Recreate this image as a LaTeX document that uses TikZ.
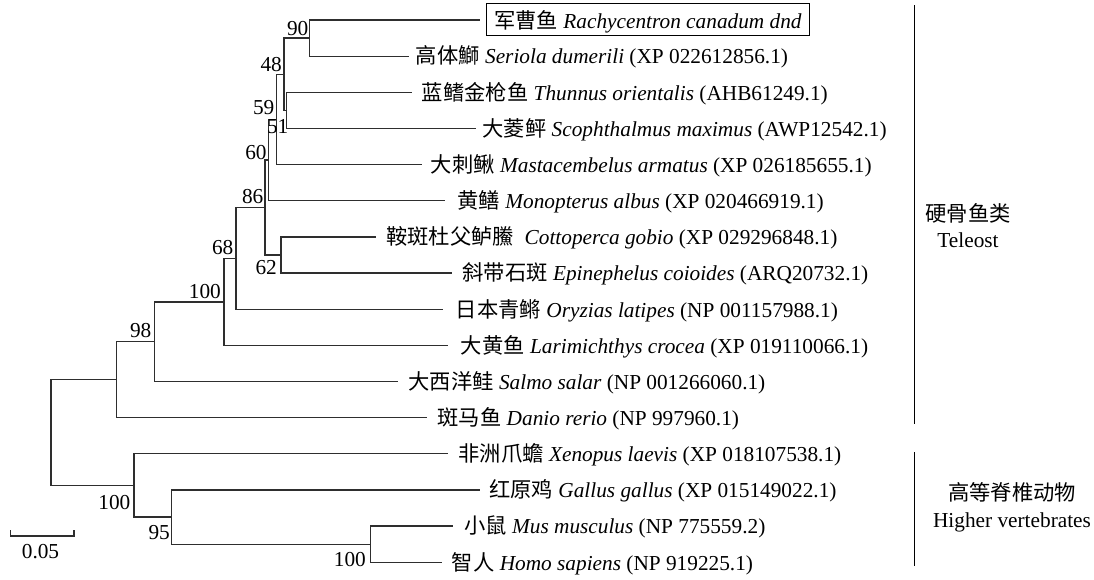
\documentclass[tikz,border=0pt]{standalone}
\usepackage{fontspec}
\setmainfont{Liberation Serif}
\newfontfamily\cjk{Noto Sans CJK SC}
\newcommand{\treefont}{\fontsize{21.3}{25}\selectfont}
\begin{document}
\begin{tikzpicture}[x=1pt,y=-1pt,
  br/.style={line width=1.3pt, draw=black!82},
  leaf/.style={anchor=base west, inner sep=0pt, font=\treefont},
  boot/.style={anchor=base east, inner sep=0pt, font=\treefont},
  clade/.style={anchor=base, inner sep=0pt, font=\treefont},
  bar/.style={line width=1.2pt, draw=black}]
\useasboundingbox (0,0) rectangle (1094,579);

% internal nodes
\coordinate (n90)   at (309.3, 38.075);
\coordinate (n51)   at (286.7, 110.375);
\coordinate (n48)   at (284.0, 74.225);
\coordinate (n59)   at (276.7, 119.41);
\coordinate (n60)   at (268.3, 160.08);
\coordinate (n62)   at (281.0, 254.975);
\coordinate (n86)   at (265.0, 207.53);
\coordinate (n68)   at (236.0, 258.365);
\coordinate (n100a) at (224.0, 301.86);
\coordinate (n98)   at (154.3, 341.68);
\coordinate (ntel)  at (116.7, 379.665);
\coordinate (nmh)   at (370.7, 544.175);
\coordinate (n95)   at (171.3, 517.06);
\coordinate (nhigh) at (134.0, 485.43);
\coordinate (root)  at (51.0, 432.55);

% leaf tips
\coordinate (t0)  at (480.0, 20);
\coordinate (t1)  at (409.0, 56.15);
\coordinate (t2)  at (411.7, 92.3);
\coordinate (t3)  at (476.0, 128.45);
\coordinate (t4)  at (421.7, 164.6);
\coordinate (t5)  at (445.0, 200.75);
\coordinate (t6)  at (376.0, 236.9);
\coordinate (t7)  at (451.7, 273.05);
\coordinate (t8)  at (443.3, 309.2);
\coordinate (t9)  at (448.3, 345.35);
\coordinate (t10) at (398.0, 381.5);
\coordinate (t11) at (426.7, 417.65);
\coordinate (t12) at (448.3, 453.8);
\coordinate (t13) at (480.0, 489.95);
\coordinate (t14) at (453.3, 526.1);
\coordinate (t15) at (441.7, 562.25);

% leaf labels
\node[font=\treefont, draw=black, line width=1pt, inner xsep=8pt, inner ysep=4pt,
      text height=20.5pt, text depth=3.2pt, anchor=north west] (l0) at (485.7, 3.3)
  {{\cjk 军曹鱼} \textit{Rachycentron canadum dnd}};
\node[leaf] (l1)  at (415.7, 63.95)  {{\cjk 高体鰤} \textit{Seriola dumerili} (XP 022612856.1)};
\node[leaf] (l2)  at (421.7, 100.1)  {{\cjk 蓝鳍金枪鱼} \textit{Thunnus orientalis} (AHB61249.1)};
\node[leaf] (l3)  at (482.3, 136.25) {{\cjk 大菱鲆} \textit{Scophthalmus maximus} (AWP12542.1)};
\node[leaf] (l4)  at (430.7, 172.4)  {{\cjk 大刺鳅} \textit{Mastacembelus armatus} (XP 026185655.1)};
\node[leaf] (l5)  at (457.3, 208.55) {{\cjk 黄鳝} \textit{Monopterus albus} (XP 020466919.1)};
\node[leaf] (l6)  at (386.0, 244.7)  {{\cjk 鞍斑杜父鲈鰧}\ \ \textit{Cottoperca gobio} (XP 029296848.1)};
\node[leaf] (l7)  at (462.3, 280.85) {{\cjk 斜带石斑} \textit{Epinephelus coioides} (ARQ20732.1)};
\node[leaf] (l8)  at (455.7, 317.0)  {{\cjk 日本青鳉} \textit{Oryzias latipes} (NP 001157988.1)};
\node[leaf] (l9)  at (460.7, 353.15) {{\cjk 大黄鱼} \textit{Larimichthys crocea} (XP 019110066.1)};
\node[leaf] (l10) at (408.3, 389.3)  {{\cjk 大西洋鲑} \textit{Salmo salar} (NP 001266060.1)};
\node[leaf] (l11) at (437.3, 425.45) {{\cjk 斑马鱼} \textit{Danio rerio} (NP 997960.1)};
\node[leaf] (l12) at (458.3, 461.6)  {{\cjk 非洲爪蟾} \textit{Xenopus laevis} (XP 018107538.1)};
\node[leaf] (l13) at (489.0, 497.75) {{\cjk 红原鸡} \textit{Gallus gallus} (XP 015149022.1)};
\node[leaf] (l14) at (464.0, 533.9)  {{\cjk 小鼠} \textit{Mus musculus} (NP 775559.2)};
\node[leaf] (l15) at (451.7, 570.05) {{\cjk 智人} \textit{Homo sapiens} (NP 919225.1)};

% branches
\draw[br] (n90) |- (t0);
\draw[br] (n90) |- (t1);
\draw[br] (n51) |- (t2);
\draw[br] (n51) |- (t3);
\draw[br] (n48) |- (n90);
\draw[br] (n48) |- (n51);
\draw[br] (n59) |- (n48);
\draw[br] (n59) |- (t4);
\draw[br] (n60) |- (n59);
\draw[br] (n60) |- (t5);
\draw[br] (n62) |- (t6);
\draw[br] (n62) |- (t7);
\draw[br] (n86) |- (n60);
\draw[br] (n86) |- (n62);
\draw[br] (n68) |- (n86);
\draw[br] (n68) |- (t8);
\draw[br] (n100a) |- (n68);
\draw[br] (n100a) |- (t9);
\draw[br] (n98) |- (n100a);
\draw[br] (n98) |- (t10);
\draw[br] (ntel) |- (n98);
\draw[br] (ntel) |- (t11);
\draw[br] (nmh) |- (t14);
\draw[br] (nmh) |- (t15);
\draw[br] (n95) |- (t13);
\draw[br] (n95) |- (nmh);
\draw[br] (nhigh) |- (t12);
\draw[br] (nhigh) |- (n95);
\draw[br] (root) |- (ntel);
\draw[br] (root) |- (nhigh);

% bootstrap values
\node[boot] (b90)  at (308.5, 35.3)  {90};
\node[boot] (b48)  at (282.0, 71.8)  {48};
\node[boot] (b59)  at (274.5, 114.0) {59};
\node[boot] (b51)  at (288.5, 133.0) {51};
\node[boot] (b60)  at (266.8, 159.3) {60};
\node[boot] (b86)  at (263.5, 203.5) {86};
\node[boot] (b62)  at (277.0, 274.0) {62};
\node[boot] (b68)  at (233.5, 254.0) {68};
\node[boot] (b100a) at (221.0, 298.3) {100};
\node[boot] (b98)  at (151.5, 337.0) {98};
\node[boot] (b100h) at (130.5, 509.3) {100};
\node[boot] (b95)  at (170.0, 539.3) {95};
\node[boot] (b100m) at (366.0, 566.7) {100};

% scale bar
\coordinate (s1) at (10.7, 530);
\coordinate (s2) at (10.7, 536);
\coordinate (s3) at (74.0, 536);
\coordinate (s4) at (74.0, 530);
\draw[br] (s1) -- (s2) -- (s3) -- (s4);
\node[clade] (sl) at (40.5, 558) {0.05};

% clade bars
\coordinate (c1a) at (914.3, 5);
\coordinate (c1b) at (914.3, 424);
\coordinate (c2a) at (914.3, 452);
\coordinate (c2b) at (914.3, 566);
\draw[bar] (c1a) -- (c1b);
\draw[bar] (c2a) -- (c2b);
\node[clade] (k1) at (968, 221) {\cjk 硬骨鱼类};
\node[clade] (k2) at (968, 247) {Teleost};
\node[clade] (k3) at (1012, 500) {\cjk 高等脊椎动物};
\node[clade] (k4) at (1012, 527) {Higher vertebrates};
\end{tikzpicture}
\end{document}
